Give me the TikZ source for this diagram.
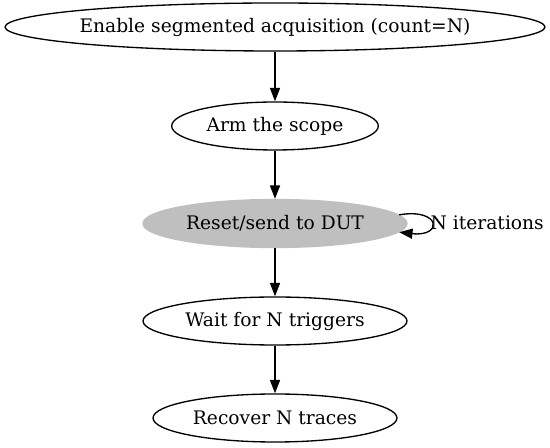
\documentclass[tikz,border=0pt]{standalone}
\usepackage{fontspec}
\setmainfont{DejaVu Serif}
\usetikzlibrary{shapes.geometric,arrows.meta}
\definecolor{nodegray}{RGB}{191,191,191}
\newcommand{\steptext}[1]{\makebox[0pt]{#1}}
\tikzset{
 stepnode/.style={ellipse, draw, inner sep=0pt, minimum height=36pt},
 busynode/.style={stepnode, draw=nodegray, fill=nodegray}
}
\begin{document}
\begin{tikzpicture}[x=0.75pt, y=-0.75pt, font=\fontsize{14pt}{16pt}\selectfont, line join=round, >={Triangle[length=10pt,width=7.5pt]}, line width=1pt]
 \useasboundingbox (0,0) rectangle (550,448);
 \node[stepnode, minimum width=405pt] (enable) at (275,27) {\steptext{Enable segmented acquisition (count=N)}};
 \node[stepnode, minimum width=155pt] (arm) at (275,126) {\steptext{Arm the scope}};
 \node[busynode, minimum width=198pt] (reset) at (275,223.5) {\steptext{Reset/send to DUT}};
 \node[stepnode, minimum width=198pt] (wait) at (275,321) {\steptext{Wait for N triggers}};
 \node[stepnode, minimum width=183pt] (recover) at (275,418) {\steptext{Recover N traces}};
 \node[anchor=west, inner sep=0pt] (iter) at (430,223) {N iterations};
 \draw[->] (enable) -- (arm);
 \draw[->] (arm) -- (reset);
 \draw[->] (reset) -- (wait);
 \draw[->] (wait) -- (recover);
 % self loop on the right
 \draw[->] (reset.4) .. controls +(42,-7) and +(44,5) .. (reset.-4.5);
\end{tikzpicture}
\end{document}
